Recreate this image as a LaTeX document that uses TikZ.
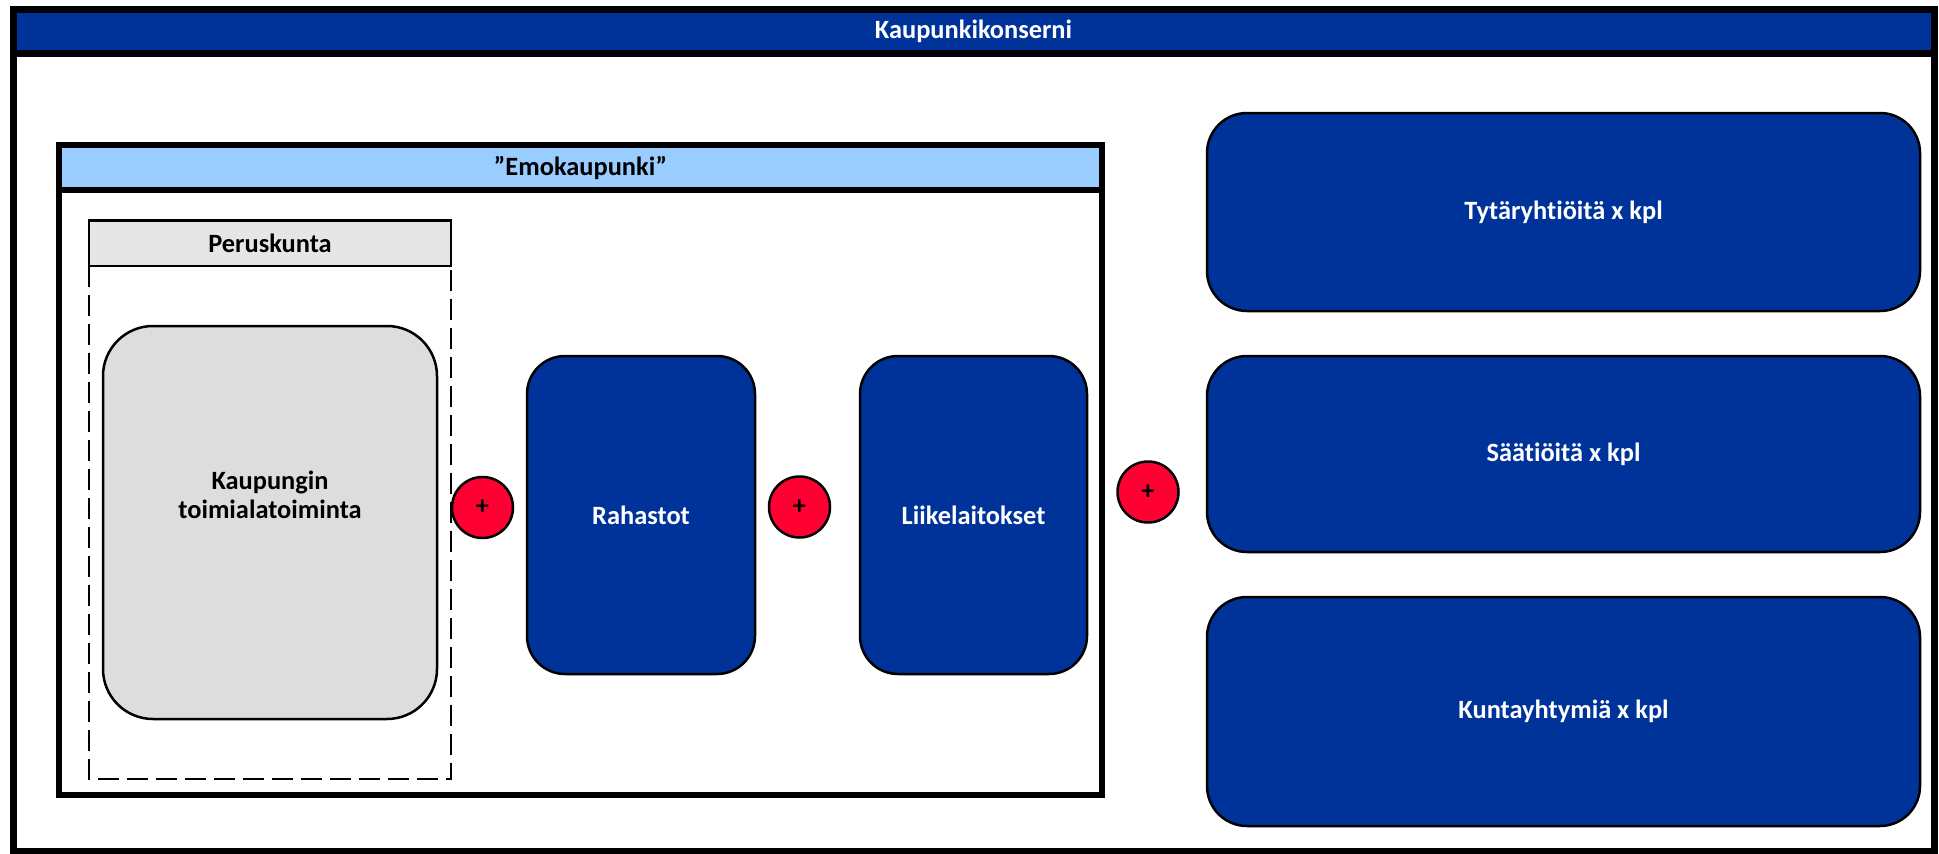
\documentclass[tikz,border=0pt]{standalone}
\usepackage{fontspec}
\setmainfont[Ligatures=NoCommon]{Carlito}
\definecolor{tummasin}{RGB}{0,51,153}
\definecolor{vaaleasin}{RGB}{153,204,255}
\definecolor{harmaa}{RGB}{230,230,230}
\definecolor{harmaa2}{RGB}{221,221,221}
\definecolor{punainen}{RGB}{255,0,51}

\begin{document}
\begin{tikzpicture}[x=1pt, y=-1pt,
  every node/.style={font=\fontsize{26.4}{29}\selectfont\bfseries, inner sep=0pt, align=center},
  otsikko/.style={draw, rectangle, fill=tummasin, text=white, line width=7pt},
  laatikko/.style={draw, rectangle, line width=2.5pt},
  sininen/.style={laatikko, rounded corners=38pt, fill=tummasin, text=white},
  summa/.style={draw, circle, fill=punainen, minimum size=61pt, line width=2.5pt}]
\useasboundingbox (0,0) rectangle (1939,854);
\begin{scope}

  % koko konserni
  \draw [line width=7pt] (13,9) rectangle (1934,851);
  \node [otsikko, minimum width=1921pt, minimum height=44pt] (konserni) at (973.5,31) {Kaupunkikonserni};

  % emokaupunki
  \draw [line width=6pt] (59,145) rectangle (1102,795);
  \node [laatikko, line width=6pt, fill=vaaleasin, minimum width=1043pt, minimum height=45pt] (emo) at (580.5,167.5) {”Emokaupunki”};

  % peruskunta
  \draw [line width=2.5pt, dash pattern=on 21pt off 8pt] (89,266) rectangle (451,779);
  \node [laatikko, fill=harmaa, minimum width=362pt, minimum height=45.5pt] (perus) at (270,243) {Peruskunta};

  \node [laatikko, rounded corners=50pt, fill=harmaa2, minimum width=334pt, minimum height=393pt] (toimiala) at (270,522.5) {};
  \node (toimialanimi) at (270,495) {Kaupungin\\toimialatoiminta};

  \node [sininen, minimum width=228pt, minimum height=318pt] (rahastot) at (641,515) {Rahastot};
  \node [sininen, minimum width=227pt, minimum height=318pt] (liikelaitokset) at (973.5,515) {Liikelaitokset};

  % yhteisot
  \node [sininen, rounded corners=40pt, minimum width=713pt, minimum height=198pt] (tytar) at (1563.5,212) {Tytäryhtiöitä x kpl};
  \node [sininen, rounded corners=40pt, minimum width=713pt, minimum height=196pt] (saatio) at (1563.5,454) {Säätiöitä x kpl};
  \node [sininen, rounded corners=40pt, minimum width=713pt, minimum height=229pt] (kuntayht) at (1563.5,711.5) {Kuntayhtymiä x kpl};

  \node [summa] (plus1) at (482.5,507.5) {+};
  \node [summa] (plus2) at (799.5,507) {+};
  \node [summa] (plus3) at (1148,492) {+};
\end{scope}
\end{tikzpicture}
\end{document}
